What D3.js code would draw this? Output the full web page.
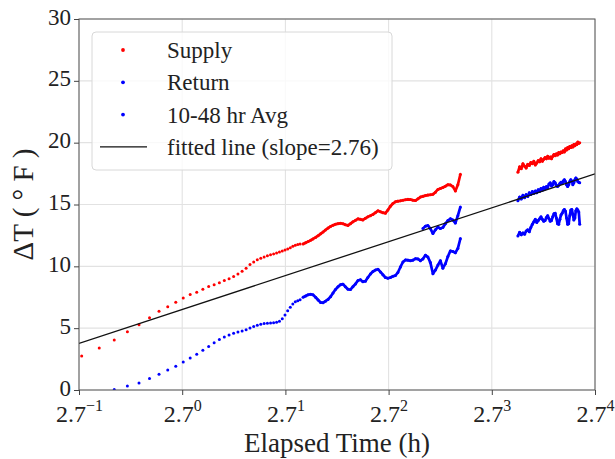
<!DOCTYPE html>
<html>
<head>
<meta charset="utf-8">
<script src="https://cdn.jsdelivr.net/npm/d3@7"></script>
<style>
  body { margin: 0; background: #fff; }
  text { font-family: "Liberation Serif", "Times New Roman", serif; }
</style>
</head>
<body>
<div id="chart"></div>
<script>
// ---- data ----
// early part of the first run: one reading every ~4 min (h)
var tEarly = [0.38, 0.45, 0.52, 0.59, 0.66, 0.73, 0.80, 0.87, 0.94, 1.01,
              1.08, 1.15, 1.22, 1.29, 1.36, 1.43, 1.50, 1.57, 1.64, 1.71,
              1.78, 1.85, 1.92, 1.99, 2.06, 2.13, 2.20, 2.27, 2.34, 2.41,
              2.48, 2.55, 2.62, 2.69, 2.76, 2.83, 2.90, 2.97, 3.04, 3.11];
var supplyEarly = [2.75, 3.40, 4.05, 4.72, 5.27, 5.85, 6.36, 6.74, 7.10, 7.43,
                   7.73, 7.90, 8.15, 8.36, 8.52, 8.68, 8.85, 9.00, 9.17, 9.38,
                   9.60, 9.84, 10.14, 10.36, 10.53, 10.65, 10.76, 10.86, 10.93, 11.00,
                   11.07, 11.16, 11.25, 11.33, 11.40, 11.50, 11.62, 11.70, 11.76, 11.80];
var returnEarly = [null, null, 0.05, 0.32, 0.57, 0.94, 1.27, 1.61, 1.93, 2.26,
                   2.58, 2.90, 3.22, 3.52, 3.82, 4.08, 4.28, 4.45, 4.59, 4.69,
                   4.78, 4.88, 5.02, 5.14, 5.24, 5.32, 5.37, 5.40, 5.42, 5.44,
                   5.48, 5.56, 5.76, 6.06, 6.40, 6.70, 6.96, 7.14, 7.22, 7.30];

// rest of the first run (dense, points merge into a line)
var tLate = [3.20, 3.28, 3.36, 3.44, 3.52, 3.61, 3.70, 3.79, 3.88, 3.97,
             4.07, 4.17, 4.27, 4.37, 4.48, 4.59, 4.70, 4.81, 4.93, 5.05,
             5.17, 5.30, 5.43, 5.56, 5.69, 5.83, 5.97, 6.12, 6.27, 6.42,
             6.58, 6.74, 6.90, 7.07, 7.24, 7.42, 7.60, 7.78, 7.97, 8.17,
             8.37, 8.57, 8.78, 8.99, 9.21, 9.44, 9.67, 9.90, 10.14, 10.39,
             10.64, 10.90, 11.17, 11.44, 11.72, 12.00, 12.29, 12.59, 12.90, 13.21,
             13.53, 13.86, 14.20, 14.55];
var supplyLate = [11.80, 11.90, 12.00, 12.10, 12.22, 12.34, 12.48, 12.63, 12.78, 12.94,
                  13.09, 13.23, 13.32, 13.40, 13.45, 13.48, 13.44, 13.36, 13.31, 13.45,
                  13.60, 13.72, 13.84, 13.80, 13.75, 13.88, 14.00, 14.10, 14.20, 14.34,
                  14.49, 14.42, 14.34, 14.30, 14.55, 14.86, 15.08, 15.22, 15.27, 15.30,
                  15.34, 15.38, 15.42, 15.40, 15.35, 15.32, 15.46, 15.60, 15.66, 15.72,
                  15.76, 15.79, 15.82, 16.00, 16.22, 16.30, 16.38, 16.48, 16.60, 16.58,
                  16.45, 16.10, 16.60, 17.45];
var returnLate = [7.50, 7.60, 7.70, 7.74, 7.70, 7.50, 7.28, 7.08, 7.06, 7.18,
                  7.32, 7.55, 7.85, 8.12, 8.35, 8.52, 8.56, 8.35, 8.15, 8.12,
                  8.35, 8.58, 8.85, 8.92, 8.76, 8.80, 9.10, 9.38, 9.58, 9.70,
                  9.76, 9.55, 9.32, 9.10, 9.04, 9.10, 9.20, 9.25, 9.50, 9.95,
                  10.35, 10.52, 10.50, 10.45, 10.50, 10.62, 10.60, 10.45, 10.60, 10.90,
                  10.75, 10.30, 9.40, 9.70, 10.10, 10.45, 9.85, 10.20, 10.80, 11.25,
                  11.20, 11.10, 11.45, 12.25];
// 10-48 hr average, starts at 10 h
var tAvgLate = [10.14, 10.39, 10.64, 10.90, 11.17, 11.44, 11.72, 12.00,
                12.29, 12.59, 12.90, 13.21, 13.53, 13.86, 14.20, 14.55];
var avgLate = [13.05, 13.25, 13.30, 13.05, 12.65, 12.95, 13.18, 13.05,
               13.15, 13.45, 13.70, 13.85, 13.75, 13.50, 14.10, 14.80];

// second run
var tRun2 = [25.30, 25.72, 26.14, 26.56, 26.98, 27.40, 27.82, 28.24, 28.66, 29.08,
             29.50, 29.92, 30.34, 30.76, 31.18, 31.60, 32.02, 32.44, 32.86, 33.28,
             33.70, 34.12, 34.54, 34.96, 35.38, 35.80, 36.22, 36.64, 37.06, 37.48,
             37.90, 38.32, 38.74, 39.16, 39.58, 40.00, 40.42, 40.84, 41.26, 41.68,
             42.10, 42.52, 42.94, 43.36, 43.78, 44.20, 44.62, 45.04, 45.46, 45.88];
var supplyRun2 = [17.60, 18.05, 17.90, 18.30, 18.10, 17.95, 18.25, 18.15, 18.40, 18.30,
                  18.50, 18.20, 18.35, 18.55, 18.45, 18.70, 18.50, 18.65, 18.80, 18.70,
                  18.90, 18.75, 18.85, 18.70, 18.90, 19.05, 18.95, 19.10, 19.00, 19.20,
                  19.10, 19.25, 19.20, 19.35, 19.25, 19.50, 19.40, 19.60, 19.50, 19.70,
                  19.60, 19.75, 19.65, 19.85, 19.75, 19.90, 19.85, 20.05, 19.95, 20.00];
var avgRun2 = [15.30, 15.60, 15.45, 15.75, 15.55, 15.80, 15.65, 15.95, 15.80, 16.05,
               15.90, 16.10, 15.95, 16.20, 16.05, 16.30, 16.15, 16.40, 16.25, 16.45,
               16.35, 16.65, 16.75, 16.50, 16.60, 16.85, 16.75, 16.55, 16.45, 16.55,
               16.70, 16.80, 16.70, 16.90, 17.00, 16.85, 16.60, 16.45, 16.60, 16.85,
               17.00, 16.90, 16.60, 16.75, 17.00, 17.15, 17.05, 16.85, 16.80, 16.75];
var returnRun2 = [12.45, 12.75, 12.55, 12.70, 12.60, 12.85, 12.95, 12.80, 13.15, 13.40,
                  13.60, 13.80, 13.55, 13.70, 13.85, 14.00, 13.80, 13.65, 13.70, 13.95,
                  14.10, 13.85, 13.65, 13.70, 14.00, 14.25, 14.30, 13.90, 13.45, 13.40,
                  13.80, 14.15, 14.30, 14.50, 14.60, 14.45, 13.90, 13.40, 13.45, 14.10,
                  14.55, 14.60, 14.20, 13.75, 13.90, 14.50, 14.65, 14.55, 14.40, 13.40];

// fitted line: dT = intercept + slope * ln(t)
var fitSlope = 2.76, fitIntercept = 6.51;

var xExps = [-1, 0, 1, 2, 3, 4];
var yTicks = [0, 5, 10, 15, 20, 25, 30];
var legendLabels = ["Supply", "Return", "10-48 hr Avg", "fitted line (slope=2.76)"];

// ---- layout ----
var W = 615, H = 459;
var margin = {top: 19, right: 20, bottom: 69, left: 79},
    width = W - margin.left - margin.right,
    height = H - margin.top - margin.bottom;

var svg = d3.select("#chart").append("svg")
    .attr("width", W).attr("height", H);
var g = svg.append("g")
    .attr("transform", "translate(" + margin.left + "," + margin.top + ")");

var x = d3.scaleLog().base(2.7)
    .domain([Math.pow(2.7, xExps[0]), Math.pow(2.7, xExps[xExps.length - 1])])
    .range([0, width]);
var y = d3.scaleLinear().domain([0, 30]).range([height, 0]);

g.append("clipPath").attr("id", "plotclip")
  .append("rect").attr("width", width).attr("height", height);

// grid
var grid = g.append("g");
grid.selectAll(".gx").data(xExps).enter().append("line")
    .attr("x1", d => x(Math.pow(2.7, d))).attr("x2", d => x(Math.pow(2.7, d)))
    .attr("y1", 0).attr("y2", height)
    .attr("stroke", "#e2e2e2").attr("stroke-width", 1.1);
grid.selectAll(".gy").data(yTicks).enter().append("line")
    .attr("x1", 0).attr("x2", width)
    .attr("y1", d => y(d)).attr("y2", d => y(d))
    .attr("stroke", "#e2e2e2").attr("stroke-width", 1.1);

// data
function pts(ts, vs) {
  return ts.map((t, i) => [t, vs[i]]).filter(p => p[1] !== null);
}
var plot = g.append("g").attr("clip-path", "url(#plotclip)");
var line = d3.line().x(d => x(d[0])).y(d => y(d[1]));

var series = [
  {color: "red",  runs: [pts(tEarly, supplyEarly)], dense: [pts(tLate, supplyLate), pts(tRun2, supplyRun2)]},
  {color: "blue", runs: [pts(tEarly, returnEarly)], dense: [pts(tLate, returnLate), pts(tRun2, returnRun2)]},
  {color: "blue", runs: [], dense: [pts(tAvgLate, avgLate), pts(tRun2, avgRun2)]}
];

series.forEach(function(s) {
  s.dense.forEach(function(run) {
    plot.append("path").datum(run)
        .attr("d", line)
        .attr("fill", "none")
        .attr("stroke", s.color)
        .attr("stroke-width", 2.7)
        .attr("stroke-linejoin", "round");
  });
  s.runs.concat(s.dense).forEach(function(run) {
    plot.append("g").selectAll("circle").data(run).enter().append("circle")
        .attr("cx", d => x(d[0])).attr("cy", d => y(d[1]))
        .attr("r", 1.5).attr("fill", s.color);
  });
});

// fitted line
var xd = x.domain();
plot.append("line")
    .attr("x1", x(xd[0])).attr("y1", y(fitIntercept + fitSlope * Math.log(xd[0])))
    .attr("x2", x(xd[1])).attr("y2", y(fitIntercept + fitSlope * Math.log(xd[1])))
    .attr("stroke", "#111").attr("stroke-width", 1.3);

// frame
g.append("rect").attr("width", width).attr("height", height)
    .attr("fill", "none").attr("stroke", "#555").attr("stroke-width", 1);

// x axis
var xAxis = g.append("g").attr("transform", "translate(0," + height + ")")
    .call(d3.axisBottom(x).tickValues(xExps.map(e => Math.pow(2.7, e))).tickSize(5).tickFormat(""));
xAxis.select(".domain").remove();
xAxis.selectAll(".tick line").attr("stroke", "#444");
xAxis.selectAll(".tick text").remove();
xAxis.selectAll(".tick").each(function(d, i) {
  var t = d3.select(this).append("text")
      .attr("y", 32).attr("text-anchor", "middle")
      .attr("fill", "#222").style("font-size", "24px");
  t.append("tspan").text("2.7");
  t.append("tspan").attr("dy", -11).style("font-size", "16px")
      .text(String(xExps[i]).replace("-", "\u2212"));
});

// y axis
var yAxis = g.append("g")
    .call(d3.axisLeft(y).tickValues(yTicks).tickSize(5).tickPadding(3));
yAxis.select(".domain").remove();
yAxis.selectAll(".tick line").attr("stroke", "#444");
yAxis.selectAll(".tick text").attr("fill", "#222").attr("dy", "0.22em")
    .style("font-size", "23px").style("font-family", "Liberation Serif");

// axis labels
svg.append("text")
    .attr("x", margin.left + width / 2).attr("y", 452)
    .attr("text-anchor", "middle").attr("fill", "#222")
    .style("font-size", "27px")
    .text("Elapsed Time (h)");
svg.append("text")
    .attr("transform", "translate(33," + (margin.top + height / 2) + ") rotate(-90)")
    .attr("text-anchor", "middle").attr("fill", "#222")
    .style("font-size", "29px")
    .text("\u0394T ( \u00b0 F )");

// legend
var lg = svg.append("g").attr("transform", "translate(92,32)");
lg.append("rect").attr("width", 300).attr("height", 138).attr("rx", 4)
    .attr("fill", "white").attr("fill-opacity", 0.8)
    .attr("stroke", "#d8d8d8");
var legendColors = ["red", "blue", "blue", "black"];
legendLabels.forEach(function(lab, i) {
  var cy = 18 + i * 32.3;
  if (i < 3) {
    lg.append("circle").attr("cx", 31).attr("cy", cy).attr("r", 1.9).attr("fill", legendColors[i]);
  } else {
    lg.append("line").attr("x1", 8).attr("x2", 55).attr("y1", cy).attr("y2", cy)
        .attr("stroke", "#111").attr("stroke-width", 1.3);
  }
  lg.append("text").attr("x", 75).attr("y", cy + 8)
      .attr("fill", "#222").style("font-size", "23px").text(lab);
});
</script>
</body>
</html>
